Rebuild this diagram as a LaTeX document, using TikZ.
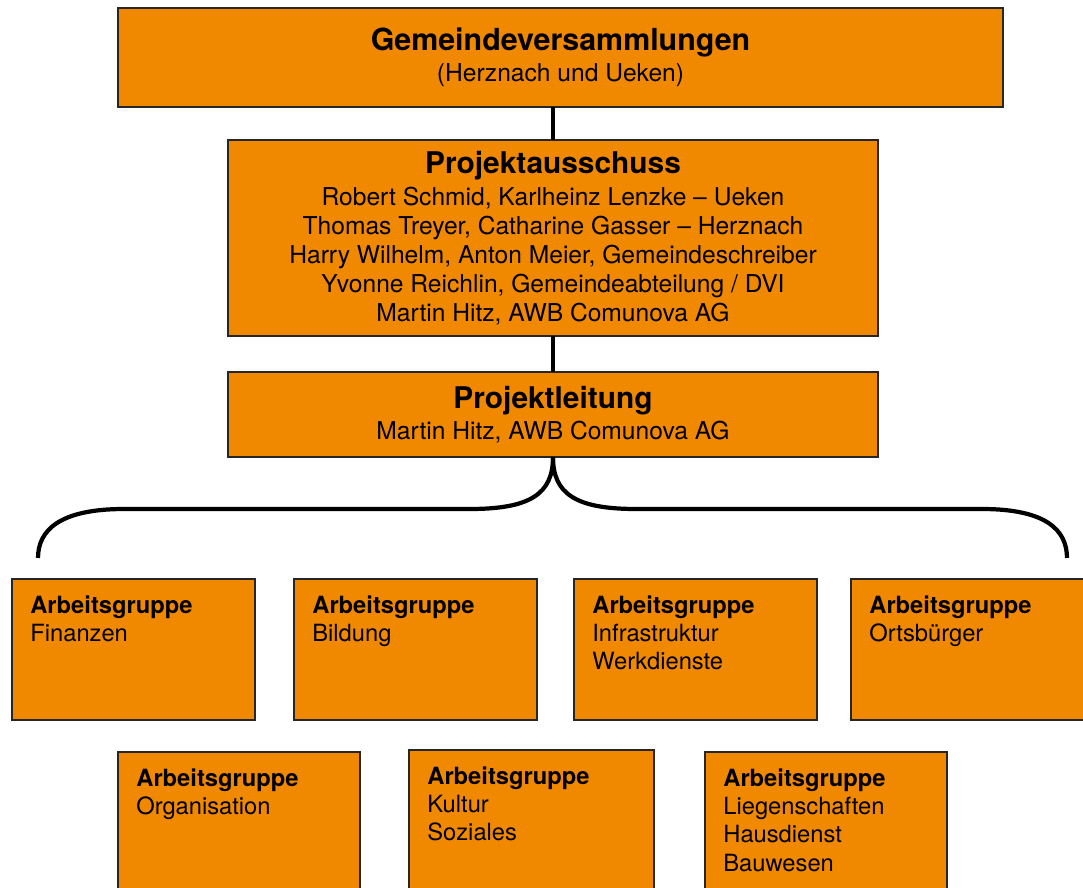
\documentclass[tikz,border=0pt]{standalone}
\usepackage{fontspec}
\setmainfont{TeX Gyre Heros}
\definecolor{org}{RGB}{240,137,0}
\begin{document}
\begin{tikzpicture}[x=0.02cm,y=-0.02cm,
  box/.style={draw=black!85, line width=0.7pt, fill=org, inner sep=0pt, outer sep=0pt, rectangle},
  bigbox/.style={box, align=center, font=\fontsize{14}{16.5}\selectfont},
  agtext/.style={anchor=north west, align=left, inner sep=0pt, font=\fontsize{13.5}{16.2}\selectfont},
  conn/.style={line width=2.8pt, draw=black},
  brace/.style={line width=2.4pt, draw=black}]
\useasboundingbox (0,0) rectangle (1083,888);
\clip (0,0) rectangle (1083,888);
\fill[white] (0,0) rectangle (1083,888);
% top boxes
\node[bigbox, minimum width=17.7cm, minimum height=1.98cm] (g) at (560.5,57.5)
  {{\fontsize{17.3}{20}\selectfont\bfseries Gemeindeversammlungen}\\[1pt] (Herznach und Ueken)\\[-13pt]\mbox{}};
\node[bigbox, minimum width=13cm, minimum height=3.92cm] (pa) at (553,238)
  {{\fontsize{17}{20}\selectfont\bfseries Projektausschuss}\\[1.5pt]
   Robert Schmid, Karlheinz Lenzke – Ueken\\
   Thomas Treyer, Catharine Gasser – Herznach\\
   Harry Wilhelm, Anton Meier, Gemeindeschreiber\\
   Yvonne Reichlin, Gemeindeabteilung / DVI\\
   Martin Hitz, AWB Comunova AG};
\node[bigbox, minimum width=13cm, minimum height=1.7cm] (pl) at (553,414.5)
  {{\fontsize{17}{20}\selectfont\bfseries Projektleitung}\\[1pt] Martin Hitz, AWB Comunova AG};
% connectors
\draw[conn] (g.south -| pa.north) -- (pa.north);
\draw[conn] (pa.south) -- (pl.north);
% brace
\coordinate (bl) at (38,558);
\coordinate (br) at (1067,558);
\draw[brace] (pl.south) .. controls (553,494) and (530,509) .. (470,509) -- (124,509)
  .. controls (60,509) and (38,530) .. (bl);
\draw[brace] (pl.south) .. controls (553,494) and (576,509) .. (636,509) -- (982,509)
  .. controls (1046,509) and (1067,530) .. (br);
% row 1
\node[box, minimum width=4.86cm, minimum height=2.82cm] (a1) at (133.5,649.5) {};
\node[box, minimum width=4.86cm, minimum height=2.82cm] (a2) at (415.5,649.5) {};
\node[box, minimum width=4.86cm, minimum height=2.82cm] (a3) at (695.5,649.5) {};
\node[box, minimum width=4.86cm, minimum height=2.82cm] (a4) at (972.5,649.5) {};
% row 2
\node[box, minimum width=4.84cm, minimum height=3.2cm] (b1) at (239,832) {};
\node[box, minimum width=4.9cm, minimum height=3.2cm] (b2) at (531.5,830) {};
\node[box, minimum width=4.84cm, minimum height=3.2cm] (b3) at (826,832) {};
% texts
\node[agtext] (t1) at ([shift={(18,16)}]a1.north west) {\textbf{Arbeitsgruppe}\\Finanzen};
\node[agtext] (t2) at ([shift={(18,16)}]a2.north west) {\textbf{Arbeitsgruppe}\\Bildung};
\node[agtext] (t3) at ([shift={(18,16)}]a3.north west) {\textbf{Arbeitsgruppe}\\Infrastruktur\\Werkdienste};
\node[agtext] (t4) at ([shift={(18,16)}]a4.north west) {\textbf{Arbeitsgruppe}\\Ortsbürger};
\node[agtext] (t5) at ([shift={(18,16)}]b1.north west) {\textbf{Arbeitsgruppe}\\Organisation};
\node[agtext] (t6) at ([shift={(18,16)}]b2.north west) {\textbf{Arbeitsgruppe}\\Kultur\\Soziales};
\node[agtext] (t7) at ([shift={(18,16)}]b3.north west) {\textbf{Arbeitsgruppe}\\Liegenschaften\\Hausdienst\\Bauwesen};
\end{tikzpicture}
\end{document}
